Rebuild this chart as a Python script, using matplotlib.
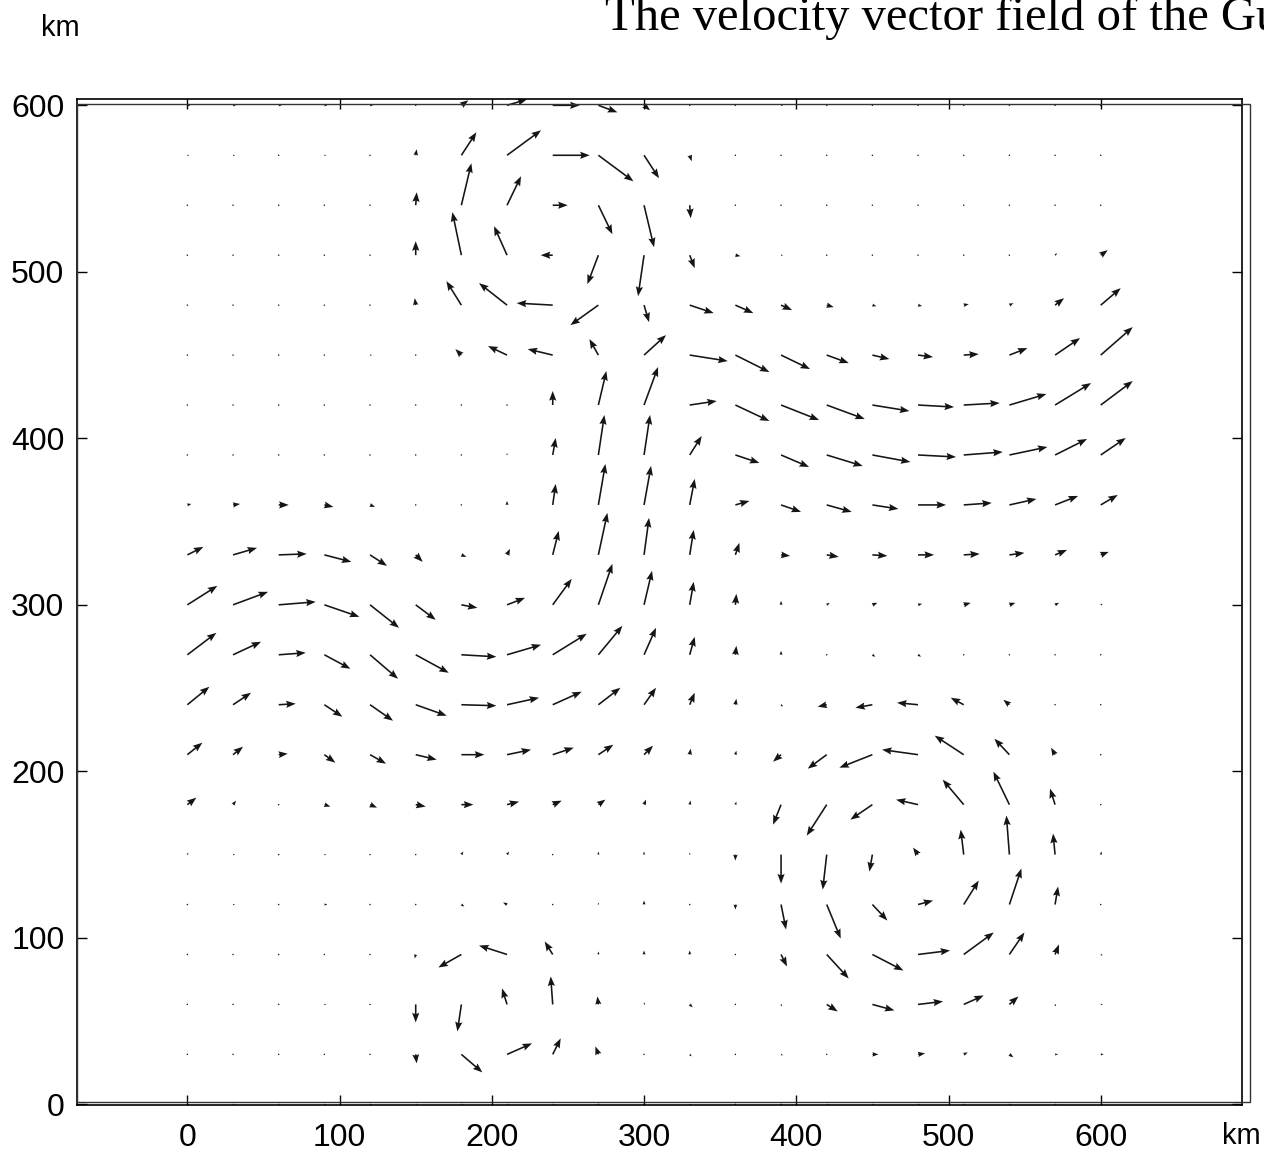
import numpy as np
import matplotlib.pyplot as plt
from matplotlib.patches import Rectangle

plt.rcParams['font.family'] = ['Liberation Sans', 'DejaVu Sans']

# grid positions (km); rows are listed from the top (y=600) down to y=0
x_km = np.arange(0, 601, 30)
y_km = np.arange(600, -1, -30)

# eastward velocity component, one list per row (top row first)
u_rows = [
    [3, 3, 3, 3, 3, 0, 7, 20, 27, 19, 6, 1, 1, 2, 1, 1, 1, 1, 1, 1, 1],
    [2, 2, 1, 2, 1, 1, 15, 34, 37, 35, 15, 2, 0, 1, 1, 1, 1, 1, 1, 1, 1],
    [1, 1, 1, 1, 1, 1, 10, 14, 15, 14, 10, 1, 0, 1, 1, 0, 0, 1, 0, 0, 1],
    [1, 1, 0, 0, 0, 0, -9, -13, -12, -11, -6, 5, 5, 2, 1, 0, 0, 1, 0, 2, 7],
    [0, 0, 1, 1, 1, -1, -15, -28, -36, -28, 5, 24, 18, 11, 7, 4, 4, 5, 4, 9, 20],
    [1, 1, 1, 1, 2, 1, -6, -19, -25, -9, 22, 38, 34, 29, 22, 17, 15, 15, 18, 25, 32],
    [1, 1, 1, 1, 1, 0, 0, 1, 0, 8, 14, 27, 34, 38, 38, 37, 36, 36, 37, 36, 32],
    [1, 1, 1, 1, 1, 1, 0, 0, 3, 6, 6, 12, 24, 28, 36, 38, 38, 39, 38, 32, 25],
    [4, 7, 10, 9, 5, 1, 0, 0, 3, 7, 7, 5, 14, 20, 25, 26, 28, 28, 27, 23, 17],
    [16, 24, 28, 27, 17, 7, 5, 3, 6, 9, 5, 4, 4, 9, 12, 15, 16, 16, 15, 12, 8],
    [30, 35, 37, 35, 29, 20, 16, 18, 19, 14, 8, 4, 1, 0, 3, 5, 4, 7, 6, 4, 2],
    [29, 28, 27, 26, 28, 33, 35, 34, 34, 24, 12, 5, 1, 0, 1, 3, 3, 1, 1, 1, 1],
    [22, 18, 17, 18, 23, 31, 35, 32, 29, 22, 12, 5, 1, 2, -9, -17, -21, -13, -6, 1, 0],
    [15, 10, 9, 11, 16, 21, 23, 24, 21, 15, 9, 1, 1, -8, -19, -33, -36, -29, -15, -4, 0],
    [9, 3, 1, 6, 7, 10, 12, 12, 9, 7, 2, 1, 1, -8, -20, -22, -22, -21, -16, -5, 1],
    [1, 2, 1, 2, 1, 1, 2, 2, 1, 0, 0, 0, 0, 0, -4, -3, -5, -3, -3, -2, 1],
    [1, 2, 1, 3, 1, 1, 3, -4, 1, 0, 0, 1, 0, 5, 14, 15, 15, 15, 12, 3, 0],
    [1, 1, 1, 1, 1, -1, -23, -28, -8, 0, 0, 0, 1, 6, 22, 31, 32, 30, 15, 4, 2],
    [1, 1, 1, 2, 1, 0, -4, -5, -2, -1, 1, 3, 1, 1, 11, 22, 25, 20, 9, 1, 2],
    [1, 1, 1, 1, 1, 1, 21, 25, 8, -3, 1, 2, 1, 2, 1, 6, 7, 4, 4, 3, 3],
    [2, 2, 2, 2, 2, 2, 2, 2, 2, 1, 1, 2, 1, 1, 2, 2, 2, 2, 2, 2, 2],
]

# northward velocity component, same layout
v_rows = [
    [0, 0, 0, 0, 0, 0, 5, 6, 0, -7, -5, 0, 0, 0, 0, 0, 0, 0, 0, 0, 0],
    [0, 0, 0, 0, 0, 6, 23, 25, 0, -26, -23, -6, 0, 0, 0, 0, 0, 0, 0, 0, 0],
    [0, 0, 0, 0, 0, 13, 42, 29, 0, -29, -42, -13, 0, 0, 0, 0, 0, 0, 0, 0, 0],
    [0, 0, 0, 0, 0, 14, 43, 29, 0, -29, -41, -13, -1, 0, 0, 0, 0, 0, 0, 2, 5],
    [0, 0, 0, 0, 0, 7, 24, 22, 2, -20, -17, -8, -8, -5, -2, -1, -1, 1, 2, 7, 17],
    [0, 0, 0, 0, 0, 0, 6, 9, 6, 16, 20, -6, -17, -14, -8, -4, -2, 1, 7, 17, 28],
    [0, 0, 0, 0, 0, 0, 0, 0, 14, 34, 38, 4, -16, -15, -14, -6, -2, 2, 11, 22, 24],
    [0, 0, 0, 0, 0, 0, 0, 2, 17, 40, 40, 19, -8, -12, -11, -7, -2, 3, 8, 16, 17],
    [1, 1, 0, -2, -2, 0, 0, 4, 21, 41, 39, 26, 4, -7, -7, -4, 0, 2, 6, 9, 10],
    [8, 7, 1, -7, -11, -7, -2, 6, 24, 42, 37, 25, 12, -1, -2, -1, 0, 1, 2, 5, 3],
    [19, 13, 3, -12, -23, -15, -3, 7, 26, 41, 34, 23, 11, 4, 2, 2, 1, 2, 2, 2, 1],
    [22, 13, 2, -14, -24, -18, -2, 10, 21, 29, 27, 18, 9, 4, 0, -2, -2, 0, 0, 0, 0],
    [18, 12, 1, -12, -16, -11, -1, 7, 13, 17, 17, 12, 6, -2, -2, -3, 2, 7, 5, 0, 0],
    [12, 8, 1, -8, -9, -5, 0, 5, 7, 10, 9, 6, 4, -7, -14, -13, 5, 19, 16, 7, 0],
    [7, 4, 0, -2, -3, -2, 0, 3, 4, 5, 5, 4, 3, -20, -31, -15, 5, 25, 33, 16, 0],
    [2, 0, 0, 0, 0, 0, 3, 3, 0, 3, 3, 2, -6, -29, -35, -17, 7, 25, 39, 21, 3],
    [0, 0, 0, 0, 0, 0, -2, 2, 0, 2, 4, 0, -5, -25, -34, -16, 4, 24, 36, 18, 1],
    [0, 0, 0, 0, 0, -4, -13, 9, 13, 3, 4, 4, 0, -12, -24, -16, 4, 22, 22, 10, -1],
    [0, 0, 0, 0, 0, -18, -27, 16, 28, 8, 2, -3, 0, -2, -7, -6, 3, 9, 8, -2, 0],
    [0, 0, 0, 0, 0, -9, -18, 11, 16, 8, 0, -2, 0, -1, 0, 0, 1, 2, -3, 0, 0],
    [0, 0, 0, 0, 0, 0, 0, 0, 0, 1, 1, -2, 0, 0, 0, 0, 0, 0, 0, 0, 0],
]

xticks = [0, 100, 200, 300, 400, 500, 600]
yticks = [0, 100, 200, 300, 400, 500, 600]

W, H = 1264, 1153
fig = plt.figure(figsize=(W / 100, H / 100), dpi=100)
ax = fig.add_axes([77 / W, 48 / H, 1165 / W, 1006 / H])

X, Y = np.meshgrid(x_km, y_km)
U = np.array(u_rows, dtype=float)
V = np.array(v_rows, dtype=float)
ax.quiver(X, Y, U, V, angles='uv', scale_units='dots', scale=1, units='dots',
          width=1.6, headwidth=4.5, headlength=6, headaxislength=5.3,
          color='#151515', pivot='tail')

ax.set_xlim(-72.5, 692.8)
ax.set_ylim(-0.4, 603.8)
ax.set_xticks(xticks)
ax.set_yticks(yticks)
ax.tick_params(direction='in', length=7, width=1, top=True, right=True,
               labelsize=23)
ax.tick_params(axis='y', pad=9)
ax.tick_params(axis='x', pad=13)
for s in ax.spines.values():
    s.set_linewidth(1.2)

# second, slightly offset frame line as in the original figure
fig.patches.append(Rectangle((77 / W, 51 / H), 1173 / W, 998 / H,
                             transform=fig.transFigure, fill=False,
                             lw=1, ec='#333333'))

fig.text(60 / W, 1 - 36 / H, 'km', ha='center', va='baseline', fontsize=21)
fig.text(1222 / W, 1 - 1144 / H, 'km', ha='left', va='baseline', fontsize=21)
fig.text(605 / W, 1 - 30 / H, 'The velocity vector field of the Gulf Stream',
         family=['Liberation Serif', 'DejaVu Serif'], fontsize=35, va='baseline')

fig.savefig('out.png', dpi=100)
